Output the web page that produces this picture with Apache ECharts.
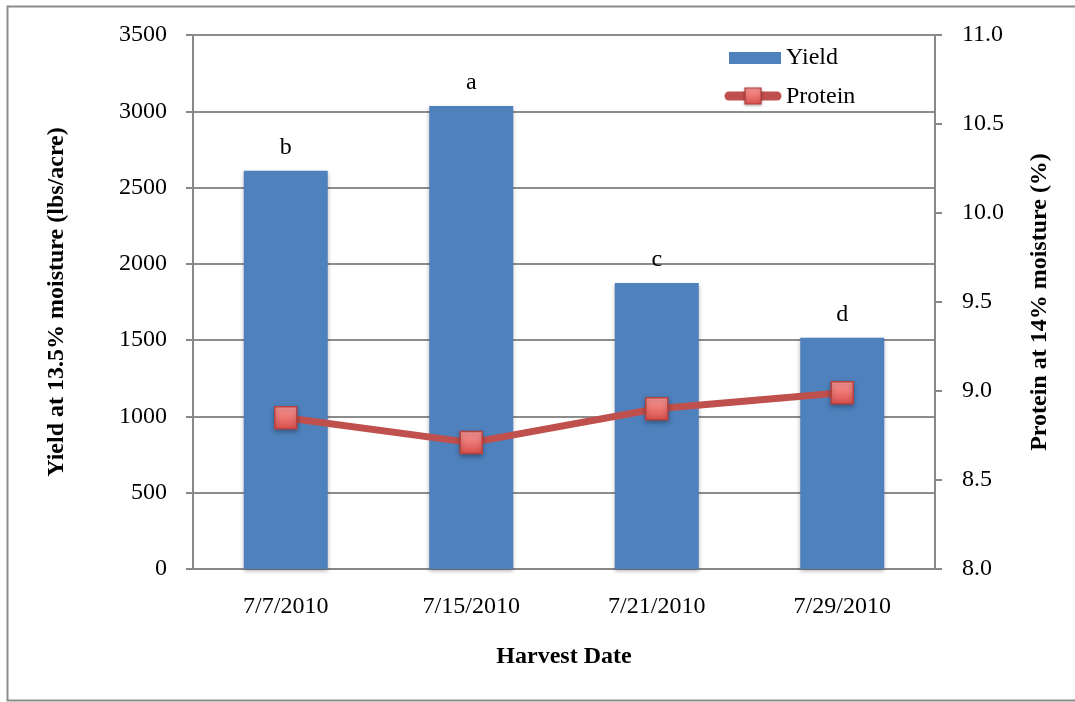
<!DOCTYPE html>
<html><head><meta charset="utf-8">
<script src="https://cdn.jsdelivr.net/npm/echarts@6/dist/echarts.min.js"></script>
<style>html,body{margin:0;padding:0;background:#fff}#c{width:1075px;height:702px}</style>
</head><body><div id="c"></div>
<script>
const categories = ['7/7/2010', '7/15/2010', '7/21/2010', '7/29/2010'];
const yieldValues = [2610, 3035, 1875, 1515];
const proteinValues = [8.85, 8.71, 8.90, 8.99];
const letters = ['b', 'a', 'c', 'd'];
const yieldTicks = { min: 0, max: 3500, interval: 500 };
const proteinTicks = { min: 8.0, max: 11.0, interval: 0.5 };

const FONT = '"Liberation Serif", "DejaVu Serif", serif';
const FS = 24;
const markerFill = new echarts.graphic.LinearGradient(0, 0, 0, 1, [
  { offset: 0, color: '#FB9A98' }, { offset: 1, color: '#DA4F4C' }
]);
const chart = echarts.init(document.getElementById('c'), null, { renderer: 'canvas' });
chart.setOption({
  animation: false,
  backgroundColor: '#fff',
  textStyle: { fontFamily: FONT },
  graphic: [{
    type: 'rect', shape: { x: 7.5, y: 6.5, width: 1080, height: 694 },
    style: { fill: 'none', stroke: '#8c8c8c', lineWidth: 2 }, silent: true, z: -1
  }],
  grid: { left: 193, right: 140, top: 35, bottom: 133 },
  legend: [{
    left: 729, top: 46, padding: 0, itemWidth: 52, itemHeight: 12,
    textStyle: { fontFamily: FONT, fontSize: FS, color: '#000' },
    data: [{ name: 'Yield', icon: 'rect' }]
  }, {
    left: 725, top: 85, padding: 0, itemWidth: 56, itemHeight: 22,
    textStyle: { fontFamily: FONT, fontSize: FS, color: '#000' },
    data: [{ name: 'Protein', icon: 'rect' }],
    itemStyle: { color: 'transparent', borderWidth: 0 }
  }],
  xAxis: {
    type: 'category', data: categories,
    name: 'Harvest Date', nameLocation: 'middle', nameGap: 76,
    nameTextStyle: { fontFamily: FONT, fontWeight: 'bold', fontSize: FS, color: '#000' },
    axisLine: { lineStyle: { color: '#888', width: 2 } },
    axisTick: { show: false },
    axisLabel: { fontFamily: FONT, fontSize: FS, color: '#000', margin: 26 }
  },
  yAxis: [{
    type: 'value', min: yieldTicks.min, max: yieldTicks.max, interval: yieldTicks.interval,
    name: 'Yield at 13.5% moisture (lbs/acre)', nameLocation: 'middle', nameGap: 124,
    nameTextStyle: { fontFamily: FONT, fontWeight: 'bold', fontSize: FS, color: '#000' },
    axisLine: { show: true, lineStyle: { color: '#888', width: 2 } },
    axisTick: { show: true, length: 7, lineStyle: { color: '#888', width: 2 } },
    axisLabel: { fontFamily: FONT, fontSize: FS, color: '#000', margin: 26, formatter: v => String(v) },
    splitLine: { show: true, lineStyle: { color: '#8c8c8c', width: 2 } }
  }, {
    type: 'value', min: proteinTicks.min, max: proteinTicks.max, interval: proteinTicks.interval,
    name: 'Protein at 14% moisture (%)', nameLocation: 'middle', nameGap: 93,
    nameRotate: 90,
    nameTextStyle: { fontFamily: FONT, fontWeight: 'bold', fontSize: FS, color: '#000' },
    axisLine: { show: true, lineStyle: { color: '#888', width: 2 } },
    axisTick: { show: true, length: 7, lineStyle: { color: '#888', width: 2 } },
    axisLabel: { fontFamily: FONT, fontSize: FS, color: '#000', margin: 27,
      formatter: v => v.toFixed(1) },
    splitLine: { show: false }
  }],
  series: [{
    name: 'Yield', type: 'bar', yAxisIndex: 0, barWidth: 84,
    data: yieldValues.map((v, i) => ({ value: v, label: { formatter: letters[i] } })),
    itemStyle: { color: '#4F81BD', shadowColor: 'rgba(0,0,0,0.3)', shadowBlur: 4, shadowOffsetY: 2 },
    label: { show: true, position: 'top', distance: 11, fontFamily: FONT, fontSize: FS, color: '#000' },
    z: 2
  }, {
    name: 'Protein', type: 'line', yAxisIndex: 1, data: proteinValues,
    symbol: 'rect', symbolSize: 22,
    lineStyle: { color: '#C0504D', width: 7 },
    itemStyle: {
      color: markerFill,
      borderColor: '#B8403E', borderWidth: 1.5,
      shadowColor: 'rgba(0,0,0,0.35)', shadowBlur: 5, shadowOffsetY: 2
    },
    z: 3
  }, {
    name: 'ProteinLegendLine', type: 'custom', coordinateSystem: 'none', silent: true,
    data: [0],
    renderItem: () => ({
      type: 'group', children: [
        { type: 'line', shape: { x1: 729, y1: 96, x2: 777, y2: 96 },
          style: { stroke: '#C0504D', lineWidth: 9, lineCap: 'round' } },
        { type: 'rect', shape: { x: 745, y: 88, width: 16, height: 16 },
          style: { fill: markerFill, stroke: '#B8403E', lineWidth: 1.2,
                   shadowColor: 'rgba(0,0,0,0.3)', shadowBlur: 3, shadowOffsetY: 1 } }
      ]
    }),
    z: 5
  }]
});
</script></body></html>
